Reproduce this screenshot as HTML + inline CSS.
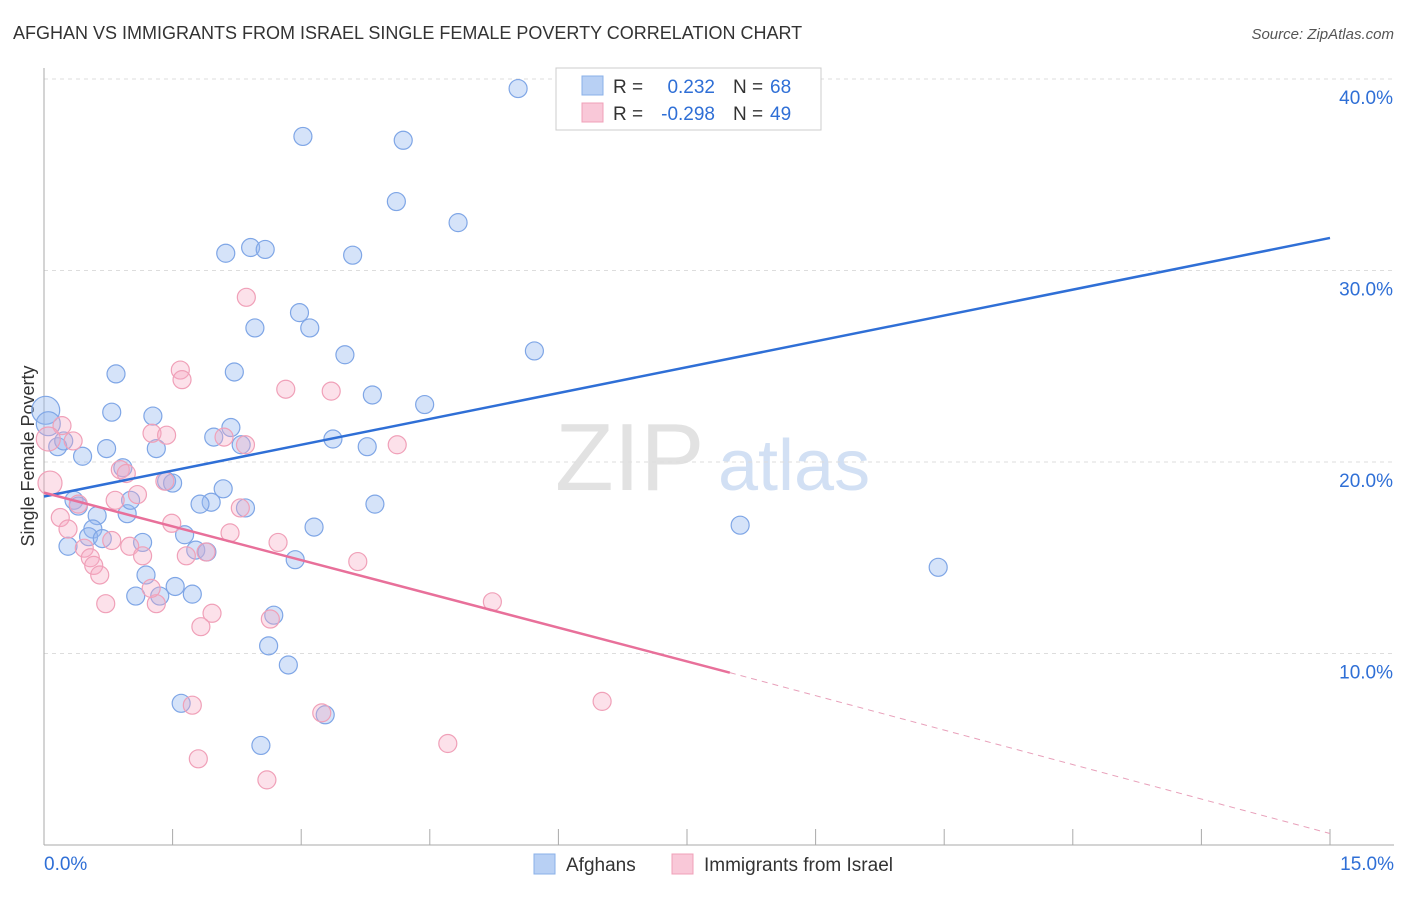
<!DOCTYPE html>
<html><head><meta charset="utf-8">
<style>
body{margin:0;background:#fff;font-family:"Liberation Sans",sans-serif;}
svg text{font-family:"Liberation Sans",sans-serif;}
</style></head>
<body>
<svg id="chart" width="1406" height="892" xmlns="http://www.w3.org/2000/svg">
<text x="13" y="39" font-size="18" fill="#333">AFGHAN VS IMMIGRANTS FROM ISRAEL SINGLE FEMALE POVERTY CORRELATION CHART</text>
<text x="1394" y="39" font-size="15" fill="#555" text-anchor="end" font-style="italic">Source: ZipAtlas.com</text>
<text transform="translate(34,456) rotate(-90)" font-size="18" fill="#333" text-anchor="middle">Single Female Poverty</text>
<g>
<text x="555" y="490" font-size="96" fill="#e2e2e2" font-family="Liberation Serif">ZIP</text>
<text x="718" y="490" font-size="72" fill="#d2e0f4">atlas</text>
</g>
<g id="grid"></g><g id="axes"></g><g id="pts"></g><g id="lines"></g>
<g>
<rect x="556" y="68" width="265" height="62" fill="#fff" stroke="#ccc"/>
<rect x="582" y="76" width="21" height="19" fill="#b8d0f4" stroke="#8ab0e8"/>
<rect x="582" y="103" width="21" height="19" fill="#f9c8d8" stroke="#f0a0b8"/>
<text x="613" y="93" font-size="19" fill="#333">R =</text>
<text x="715" y="93" font-size="19" fill="#2f6fd6" text-anchor="end">0.232</text>
<text x="733" y="93" font-size="19" fill="#333">N =</text>
<text x="770" y="93" font-size="19" fill="#2f6fd6">68</text>
<text x="613" y="120" font-size="19" fill="#333">R =</text>
<text x="715" y="120" font-size="19" fill="#2f6fd6" text-anchor="end">-0.298</text>
<text x="733" y="120" font-size="19" fill="#333">N =</text>
<text x="770" y="120" font-size="19" fill="#2f6fd6">49</text>
</g>
<g>
<rect x="534" y="854" width="21" height="20" fill="#b8d0f4" stroke="#8ab0e8"/>
<text x="566" y="871" font-size="19" fill="#333">Afghans</text>
<rect x="672" y="854" width="21" height="20" fill="#f9c8d8" stroke="#f0a0b8"/>
<text x="704" y="871" font-size="19" fill="#333">Immigrants from Israel</text>
</g>
</svg>
<script>
const yTicks=[10,20,30,40];
const yTickLabels=["10.0%","20.0%","30.0%","40.0%"];
const xTickVals=[0,1.5,3,4.5,6,7.5,9,10.5,12,13.5,15];
const blueX=[5.53,3.02,4.19,4.11,4.83,2.12,2.41,2.58,3.60,2.98,2.46,3.10,3.51,5.72,0.84,2.22,3.83,4.44,0.79,1.27,2.18,1.98,3.37,3.77,2.30,1.31,0.73,0.45,0.16,0.02,0.23,0.92,1.43,1.50,2.09,1.95,1.82,2.35,3.86,0.35,0.40,0.62,0.97,0.57,0.52,0.68,1.15,1.64,3.15,0.28,1.77,1.90,2.93,8.12,10.43,1.19,1.53,1.07,1.35,1.73,2.68,2.62,2.85,1.60,3.28,2.53,0.05,1.01];
const blueY=[39.5,37.0,36.8,33.6,32.5,30.9,31.2,31.1,30.8,27.8,27.0,27.0,25.6,25.8,24.6,24.7,23.5,23.0,22.6,22.4,21.8,21.3,21.2,20.8,20.9,20.7,20.7,20.3,20.8,22.7,21.1,19.7,19.0,18.9,18.6,17.9,17.8,17.6,17.8,18.0,17.7,17.2,17.3,16.5,16.1,16.0,15.8,16.2,16.6,15.6,15.4,15.3,14.9,16.7,14.5,14.1,13.5,13.0,13.0,13.1,12.0,10.4,9.4,7.4,6.8,5.2,22.0,18.0];
const pinkX=[0.07,0.19,0.28,0.40,0.34,0.21,0.83,0.89,0.96,1.09,1.41,1.26,1.43,1.59,1.61,2.36,2.82,3.35,4.12,2.35,2.10,2.29,2.17,2.73,1.49,1.00,0.79,0.47,0.54,0.58,0.65,1.15,1.66,1.89,0.72,1.31,1.96,1.83,2.64,3.66,5.23,6.51,3.24,4.71,1.73,1.80,2.60,0.05,1.25];
const pinkY=[18.9,17.1,16.5,17.8,21.1,21.9,18.0,19.6,19.4,18.3,19.0,21.5,21.4,24.8,24.3,28.6,23.8,23.7,20.9,20.9,21.3,17.6,16.3,15.8,16.8,15.6,15.9,15.5,15.0,14.6,14.1,15.1,15.1,15.3,12.6,12.6,12.1,11.4,11.8,14.8,12.7,7.5,6.9,5.3,7.3,4.5,3.4,21.2,13.4];
const blueLine=[[0,18.2],[15,31.7]];
const pinkLineSolid=[[0,18.4],[8.0,9.0]];
const pinkLineDash=[[8.0,9.0],[15,0.6]];
const X0=44,X1=1330,Y0=845;
const xs=v=>X0+(X1-X0)*v/15;
const ys=v=>Y0-v*19.15;
const NS="http://www.w3.org/2000/svg";
function mk(p,t,a){const e=document.createElementNS(NS,t);for(const k in a)e.setAttribute(k,a[k]);p.appendChild(e);return e;}
const grid=document.getElementById('grid'),axes=document.getElementById('axes'),pts=document.getElementById('pts'),lines=document.getElementById('lines');
yTicks.forEach((v,i)=>{
 const l=mk(grid,'line',{x1:X0,x2:1394,y1:ys(v),y2:ys(v),stroke:'#ddd','stroke-dasharray':'4,4'});
 
 
 const t=mk(axes,'text',{x:1393,y:ys(v)+25,'font-size':19,fill:'#2f6fd6','text-anchor':'end'});
 t.textContent=yTickLabels[i];
 
 
});
const ax=mk(axes,'line',{x1:X0,x2:X0,y1:68,y2:Y0,stroke:'#aaa'});


const bx=mk(axes,'line',{x1:X0,x2:1394,y1:Y0,y2:Y0,stroke:'#aaa'});


xTickVals.forEach(v=>{
 const t=mk(axes,'line',{x1:xs(v),x2:xs(v),y1:Y0,y2:Y0-16,stroke:'#aaa'});
 
 
});
const xl=mk(axes,'text',{x:44,y:870,'font-size':19,fill:'#2f6fd6'});xl.textContent='0.0%';


const xr=mk(axes,'text',{x:1394,y:870,'font-size':19,fill:'#2f6fd6','text-anchor':'end'});xr.textContent='15.0%';


blueX.forEach((v,i)=>{
 const r=i==29?14:(i==66?12:9);
 const c=mk(pts,'circle',{cx:xs(v),cy:ys(blueY[i]),r:r,fill:'rgba(150,185,240,0.4)',stroke:'#7fa6e6','stroke-width':1.2});
 
 
});
pinkX.forEach((v,i)=>{
 const r=(i==0||i==47)?12:9;
 const c=mk(pts,'circle',{cx:xs(v),cy:ys(pinkY[i]),r:r,fill:'rgba(245,170,195,0.35)',stroke:'#f0a0b8','stroke-width':1.2});
 
 
});
function ln(d,col,dash,name){
 const l=mk(lines,'line',{x1:xs(d[0][0]),y1:ys(d[0][1]),x2:xs(d[1][0]),y2:ys(d[1][1]),stroke:col,'stroke-width':dash?1:2.5});
 if(dash)l.setAttribute('stroke-dasharray','6,5');
 
 
}
ln(blueLine,'#2f6fd6',false,'afghans-trendline');
ln(pinkLineSolid,'#e8709a',false,'israel-trendline');
ln(pinkLineDash,'#e8a0ba',true,'israel-trendline-extension');
</script>
</body></html>
